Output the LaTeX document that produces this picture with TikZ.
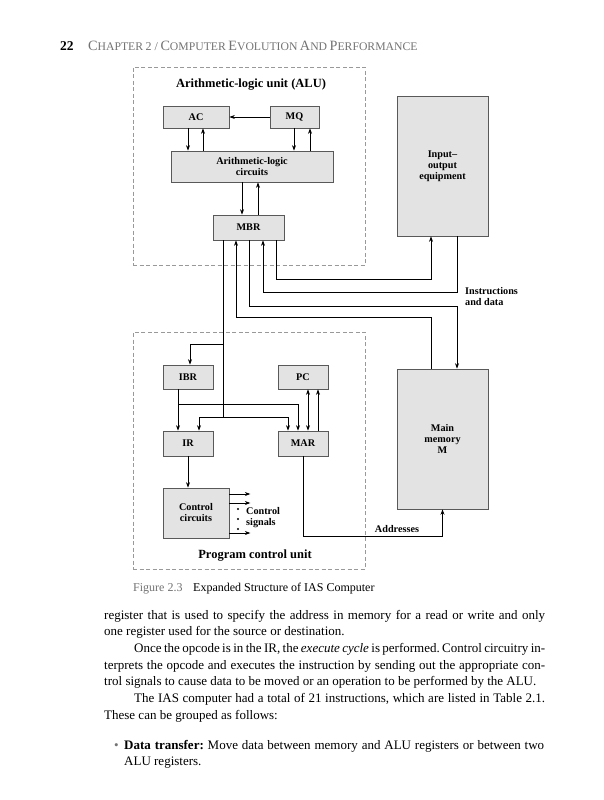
\documentclass[tikz,border=0pt]{standalone}
\usepackage{fontspec}
\setmainfont{Liberation Serif}
\usetikzlibrary{arrows.meta,calc}
\frenchspacing
\newcommand\lblfont{\fontsize{10.2}{11}\selectfont\bfseries}
\newcommand\bodyfont{\fontsize{13}{16.7}\selectfont}
\newcommand\scx[2]{{\fontsize{14.2}{14}\selectfont #1}{\fontsize{11.7}{14}\selectfont #2}}
\definecolor{boxfill}{gray}{0.89}
\definecolor{boxline}{gray}{0.35}
\definecolor{dashline}{gray}{0.6}
\definecolor{hdrgray}{gray}{0.45}
\tikzset{
  regbox/.style={draw=boxline, fill=boxfill, line width=0.7pt, inner sep=0pt, font=\lblfont, align=center},
  unitbox/.style={draw=dashline, line width=0.8pt, dash pattern=on 4pt off 2.5pt, inner sep=0pt},
  conn/.style={line width=0.8pt, draw=black},
  arr/.style={conn, -{Stealth[length=5.5pt,width=4pt]}},
  arrboth/.style={conn, {Stealth[length=5.5pt,width=4pt]}-{Stealth[length=5.5pt,width=4pt]}},
  lbl/.style={font=\lblfont, inner sep=0pt, align=center},
  sigdot/.style={circle, fill=black, inner sep=0pt, minimum size=2.2pt},
  txt/.style={inner sep=0pt, anchor=base west, font=\bodyfont}
}
\begin{document}
\begin{tikzpicture}[x=1pt,y=-1pt]
\useasboundingbox (0,0) rectangle (604,800);
\fill[white] (0,0) rectangle (604,800);

% header
\node[inner sep=0pt, anchor=base west, font=\fontsize{13.5}{13}\selectfont\bfseries] (pg) at (60,51) {22};
\node[inner sep=0pt, anchor=base west, text=hdrgray] (hdr) at (88,51)
  {\scx{C}{HAPTER} {\fontsize{12}{14}\selectfont 2 /} \scx{C}{OMPUTER} \scx{E}{VOLUTION} \scx{A}{ND} \scx{P}{ERFORMANCE}};

% unit boxes
\node[unitbox, minimum width=232pt, minimum height=198pt] (alu) at (249,166) {};
\node[unitbox, minimum width=232pt, minimum height=237pt] (pcu) at (249,450.5) {};
\node[lbl, font=\fontsize{12.5}{13}\selectfont\bfseries] (alut) at (251,85) {Arithmetic-logic unit (ALU)};
\node[lbl, font=\fontsize{12.5}{13}\selectfont\bfseries] (pcut) at (255,556) {Program control unit};

% registers
\node[regbox, minimum width=66pt, minimum height=22pt] (AC) at (196,117) {AC};
\node[regbox, minimum width=49pt, minimum height=22pt] (MQ) at (294.5,117) {MQ};
\node[regbox, minimum width=162pt, minimum height=31pt] (ALC) at (252,166.5) {Arithmetic-logic\\circuits};
\node[regbox, minimum width=71pt, minimum height=25pt] (MBR) at (248.5,227.5) {MBR};
\node[regbox, minimum width=91pt, minimum height=140pt] (IO) at (442.5,166) {Input--\\output\\equipment};
\node[regbox, minimum width=91pt, minimum height=140pt] (M) at (442.5,439) {Main\\memory\\M};
\node[regbox, minimum width=50pt, minimum height=24pt] (IBR) at (188,377) {IBR};
\node[regbox, minimum width=50pt, minimum height=24pt] (PC) at (303,377) {PC};
\node[regbox, minimum width=50pt, minimum height=25pt] (IR) at (188,443.5) {IR};
\node[regbox, minimum width=50pt, minimum height=25pt] (MAR) at (303,443.5) {MAR};
\node[regbox, minimum width=66pt, minimum height=50pt] (CC) at (196,513) {Control\\circuits};

% ALU internal
\draw[arr] (MQ.west) -- (AC.east);
\draw[arr] ([xshift=-8pt]AC.south) -- ([xshift=-8pt]AC.south |- ALC.north);
\draw[arr] ([xshift=7pt]AC.south |- ALC.north) -- ([xshift=7pt]AC.south);
\draw[arr] ([xshift=-0.5pt]MQ.south) -- ([xshift=-0.5pt]MQ.south |- ALC.north);
\draw[arr] ([xshift=15.5pt]MQ.south |- ALC.north) -- ([xshift=15.5pt]MQ.south);
\draw[arr] ([xshift=-6.5pt]MBR.north |- ALC.south) -- ([xshift=-6.5pt]MBR.north);
\draw[arr] ([xshift=9.5pt]MBR.north) -- ([xshift=9.5pt]MBR.north |- ALC.south);

% MBR <-> IO / memory
\draw[arr] ([xshift=27.5pt]MBR.south) -- ++(0,39) -| ([xshift=-11.5pt]IO.south);
\draw[arr] ([xshift=14.5pt]IO.south) -- ++(0,56) -| ([xshift=14.5pt]MBR.south);
\draw[arr] ([xshift=0.5pt]MBR.south) -- ++(0,66) -| ([xshift=14.5pt]M.north);
\draw[arr] ([xshift=-11.5pt]M.north) -- ++(0,-51) -| ([xshift=-12.5pt]MBR.south);
\node[lbl, anchor=north west, align=left] (idl) at (465,287) {Instructions\\and data};

% MBR -> IBR, IR, MAR
\path ([xshift=-25.5pt]MBR.south) ++(0,104) coordinate (j1) ++(0,73) coordinate (j2);
\draw[conn] ([xshift=-25.5pt]MBR.south) -- (j2);
\draw[arr] (j1) -| ([xshift=2pt]IBR.north);
\draw[arr] (j2) -| ([xshift=11pt]IR.north);
\draw[arr] (j2) -| ([xshift=-15pt]MAR.north);

% IBR -> IR, MAR
\draw[arr] ([xshift=-10pt]IBR.south) -- ([xshift=-10pt]IR.north);
\path ([xshift=-10pt]IBR.south) ++(0,15) coordinate (j3);
\draw[arr] (j3) -| ([xshift=-5pt]MAR.north);

% PC <-> MAR
\draw[arrboth] ([xshift=5pt]MAR.north) -- ([xshift=5pt]PC.south);
\draw[arr] ([xshift=15pt]MAR.north) -- ([xshift=15pt]PC.south);

% IR -> control
\draw[arr] (IR.south) -- ([xshift=-8pt]CC.north);

% control signals
\draw[arr] ([yshift=19pt]CC.east) -- ++(21,0);
\draw[arr] ([yshift=10pt]CC.east) -- ++(21,0);
\draw[arr] ([yshift=-20pt]CC.east) -- ++(21,0);
\node[sigdot] (d1) at (238,509) {};
\node[sigdot] (d2) at (238,519) {};
\node[sigdot] (d3) at (238,529) {};
\node[lbl, anchor=west, align=left] (csl) at (246,518) {Control\\signals};

% MAR -> memory
\draw[arr] (MAR.south) -- ++(0,80) -| (M.south);
\node[lbl, anchor=south] (adl) at (397,533) {Addresses};

% caption
\node[inner sep=0pt, anchor=base west, font=\fontsize{12}{14}\selectfont, text=hdrgray] (cap1) at (133,591) {Figure 2.3};
\node[inner sep=0pt, anchor=base west, font=\fontsize{12}{14}\selectfont] (cap2) at (193,591) {Expanded Structure of IAS Computer};

% body text
\node[txt] (t1) at (104,619) {\hbox to 441pt{register that is used to specify the address in memory for a read or write and only}};
\node[txt] (t2) at (104,635.7) {one register used for the source or destination.};
\node[txt] (t3) at (134,652.4) {\hbox to 411pt{Once the opcode is in the IR, the \textit{execute cycle} is performed. Control circuitry in-}};
\node[txt] (t4) at (104,669.1) {\hbox to 441pt{terprets the opcode and executes the instruction by sending out the appropriate con-}};
\node[txt] (t5) at (104,685.8) {trol signals to cause data to be moved or an operation to be performed by the ALU.};
\node[txt] (t6) at (134,702.5) {\hbox to 411pt{The IAS computer had a total of 21 instructions, which are listed in Table 2.1.}};
\node[txt] (t7) at (104,719.2) {These can be grouped as follows:};
\node[txt, text=hdrgray] (bul) at (114,749) {\textbullet};
\node[txt] (t8) at (124,749) {\hbox to 420pt{\textbf{Data transfer:} Move data between memory and ALU registers or between two}};
\node[txt] (t9) at (124,765.7) {ALU registers.};
\end{tikzpicture}
\end{document}
